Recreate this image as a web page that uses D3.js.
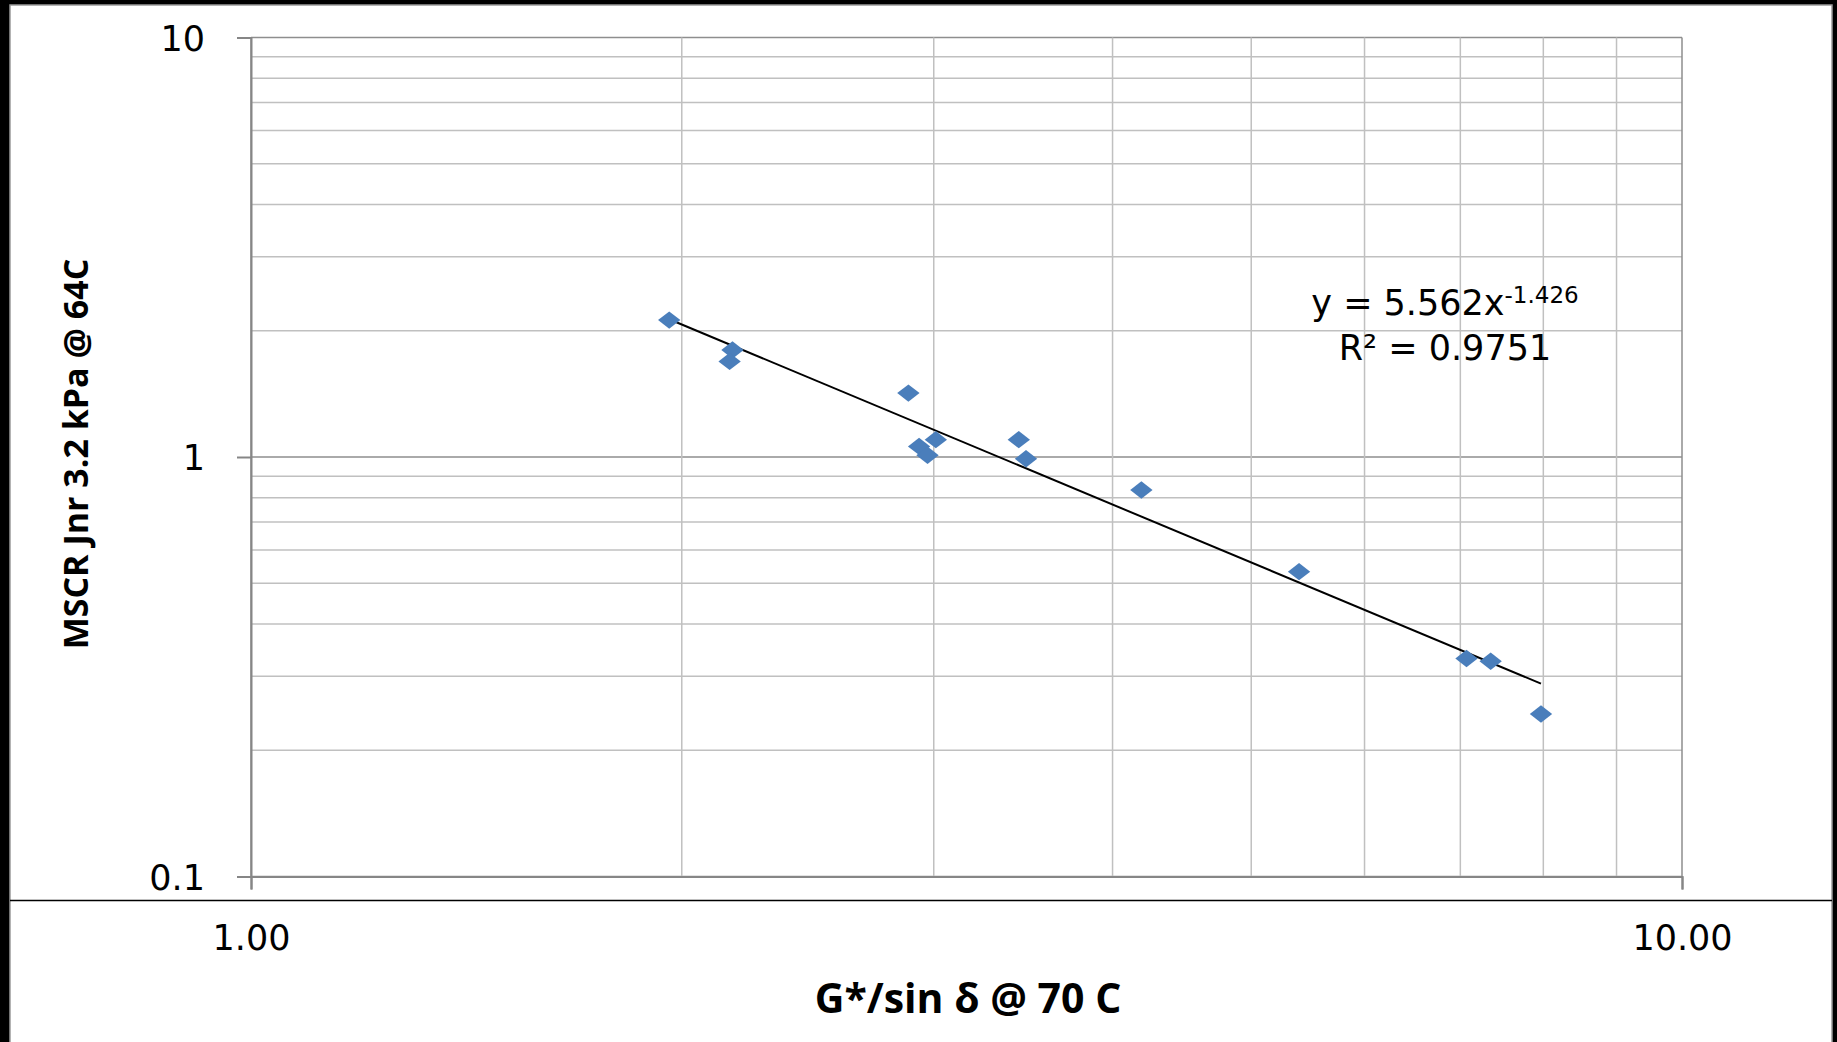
<!DOCTYPE html>
<html>
<head>
<meta charset="utf-8">
<script src="https://cdn.jsdelivr.net/npm/d3@7"></script>
<style>
    body { margin: 0; background: #fff; }
    svg { display: block; }
    .tick-label { font-family: "DejaVu Sans", sans-serif; font-size: 35px; fill: #000; }
    .title { font-family: "Open Sans", sans-serif; font-weight: 700; fill: #000; }
</style>
</head>
<body>
<div id="chart"></div>
<script>
// values
const gStarSin = [1.96, 2.17, 2.16, 2.88, 2.93, 2.97, 3.01, 3.44, 3.48, 4.19, 5.40, 7.07, 7.35, 7.97];
const jnr = [2.12, 1.80, 1.69, 1.42, 1.06, 1.01, 1.10, 1.10, 0.99, 0.834, 0.533, 0.331, 0.326, 0.244];

const xTicks = [1, 10];
const yTicks = [0.1, 1, 10];
const yTickLabels = ["0.1", "1", "10"];

// power trendline as printed on the chart
const trendA = 5.562;
const trendB = -1.426;
const trendR2 = "0.9751";

const xTitle = "G*/sin \u03b4 @ 70 C";
const yTitle = "MSCR Jnr 3.2 kPa @ 64C";

const W = 1837, H = 1042;
const plot = { left: 251, right: 1682, top: 37.5, bottom: 876.5 };

const svg = d3.select("#chart").append("svg")
    .attr("width", W)
    .attr("height", H);

// black frame round the chart
svg.append("rect").attr("width", W).attr("height", H).attr("fill", "#000");
svg.append("rect")
    .attr("x", 10).attr("y", 5)
    .attr("width", 1822).attr("height", H + 20)
    .attr("fill", "#fff")
    .attr("stroke", "#9a9a9a")
    .attr("stroke-width", 1.5);

const x = d3.scaleLog().domain([1, 10]).range([plot.left, plot.right]);
const y = d3.scaleLog().domain([0.1, 10]).range([plot.bottom, plot.top]);

const isMajor = v => Math.abs(Math.log10(v) - Math.round(Math.log10(v))) < 1e-9;

// gridlines, minor first so majors sit on top
const grid = svg.append("g").attr("class", "grid");
const yGrid = y.ticks().sort((a, b) => isMajor(a) - isMajor(b));
const xGrid = x.ticks().sort((a, b) => isMajor(a) - isMajor(b));

grid.selectAll(".hgrid")
    .data(yGrid).enter()
    .append("line")
    .attr("x1", plot.left).attr("x2", plot.right)
    .attr("y1", d => y(d)).attr("y2", d => y(d))
    .attr("stroke", d => isMajor(d) ? "#8e8e8e" : "#c0c0c0")
    .attr("stroke-width", 1.5);

grid.selectAll(".vgrid")
    .data(xGrid).enter()
    .append("line")
    .attr("y1", plot.top).attr("y2", plot.bottom)
    .attr("x1", d => x(d)).attr("x2", d => x(d))
    .attr("stroke", d => isMajor(d) ? "#8e8e8e" : "#c0c0c0")
    .attr("stroke-width", 1.5);

// axes
const yAxis = d3.axisLeft(y)
    .tickValues(yTicks)
    .tickFormat((d, i) => yTickLabels[i])
    .tickSize(14)
    .tickPadding(32);

const yAxisG = svg.append("g")
    .attr("transform", `translate(${plot.left},0)`)
    .call(yAxis);

const xAxis = d3.axisBottom(x)
    .tickValues(xTicks)
    .tickFormat(d3.format(".2f"))
    .tickSize(13)
    .tickPadding(36);

const xAxisG = svg.append("g")
    .attr("transform", `translate(0,${plot.bottom})`)
    .call(xAxis);

[yAxisG, xAxisG].forEach(g => {
    g.select(".domain").attr("stroke", "#868686").attr("stroke-width", 2);
    g.selectAll(".tick line").attr("stroke", "#868686").attr("stroke-width", 2);
    g.selectAll(".tick text")
        .attr("class", "tick-label")
        .attr("font-family", null)
        .attr("font-size", null);
});
xAxisG.selectAll(".tick text").attr("dy", "0.71em");
yAxisG.selectAll(".tick text").attr("dy", "0.36em");

// separator line under the plot
svg.append("line")
    .attr("x1", 10).attr("x2", 1832)
    .attr("y1", 900.5).attr("y2", 900.5)
    .attr("stroke", "#000")
    .attr("stroke-width", 1.5);

// power trendline across the data range
const xExtent = d3.extent(gStarSin);
const trendLine = d3.line()
    .x(d => x(d))
    .y(d => y(trendA * Math.pow(d, trendB)));

svg.append("path")
    .datum(xExtent)
    .attr("d", trendLine)
    .attr("fill", "none")
    .attr("stroke", "#000")
    .attr("stroke-width", 2);

// diamond markers
const diamond = d3.symbol().type(d3.symbolSquare).size(250);
svg.append("g").selectAll(".pt")
    .data(gStarSin.map((v, i) => [v, jnr[i]])).enter()
    .append("path")
    .attr("class", "pt")
    .attr("d", diamond)
    .attr("transform", d => `translate(${x(d[0])},${y(d[1])}) scale(1,0.78) rotate(45)`)
    .attr("fill", "#4a7ebb");

// trendline equation
const eq = svg.append("text")
    .attr("class", "tick-label")
    .attr("x", 1445)
    .attr("y", 315)
    .attr("text-anchor", "middle");
eq.append("tspan").text(`y = ${trendA}x`);
eq.append("tspan")
    .attr("dy", -12)
    .attr("font-size", 23)
    .text(trendB);

svg.append("text")
    .attr("class", "tick-label")
    .attr("x", 1445)
    .attr("y", 360)
    .attr("text-anchor", "middle")
    .text(`R\u00b2 = ${trendR2}`);

// axis titles
svg.append("text")
    .attr("class", "title")
    .attr("x", 968)
    .attr("y", 1013)
    .attr("text-anchor", "middle")
    .attr("font-size", 41)
    .text(xTitle);

svg.append("text")
    .attr("class", "title")
    .attr("transform", "translate(88,454) rotate(-90)")
    .attr("text-anchor", "middle")
    .attr("font-size", 34)
    .text(yTitle);
</script>
</body>
</html>
